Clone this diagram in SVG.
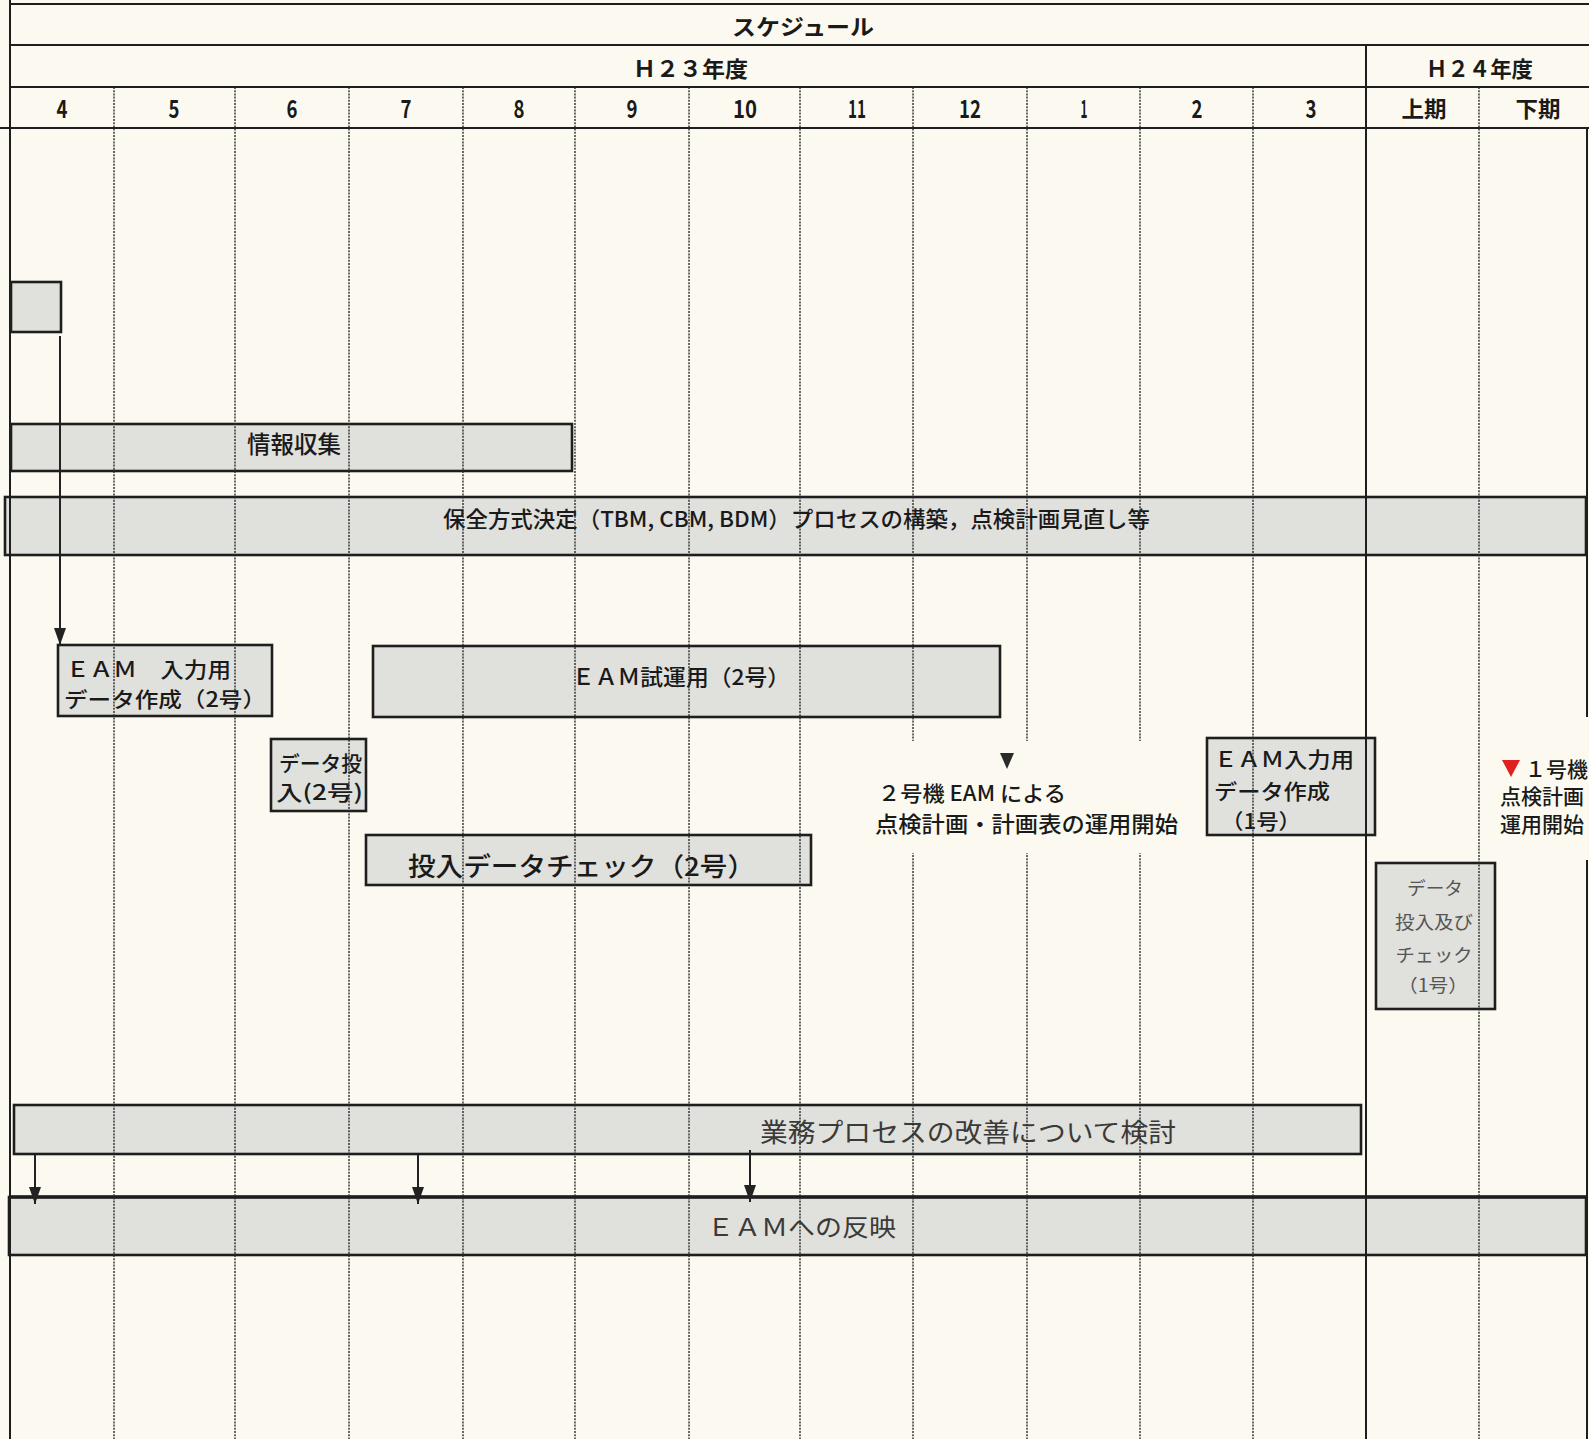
<svg xmlns="http://www.w3.org/2000/svg" width="1589" height="1439" viewBox="0 0 1589 1439">
<style>
.bg{fill:#fcfaf0}
.solid{stroke:#1e1e1e;stroke-width:2;fill:none}
.dot{stroke:#2a2a2a;stroke-width:1.4;stroke-dasharray:2 1.2;fill:none}
.box{fill:#c4c5c8;fill-opacity:0.5;stroke:#1e1e1e;stroke-width:2.6}
.t{font-family:"Noto Sans CJK JP","Noto Sans",sans-serif;fill:#1a1a1a;font-weight:500}
.hd{font-size:22px;font-weight:700}
.mo{font-size:25px;text-anchor:middle;font-weight:700}
.lbl{font-size:21px}
.sm{font-size:18px;fill:#555;text-anchor:middle;font-weight:400}
.soft{fill:#3a3a3a;font-weight:400}
.conn{stroke:#222;stroke-width:2;fill:none}
</style>
<defs>
<marker id="ah" viewBox="0 0 10 10" refX="10" refY="5" markerWidth="17" markerHeight="12" markerUnits="userSpaceOnUse" orient="auto" preserveAspectRatio="none">
<path d="M0,0 L10,5 L0,10 z" fill="#222"/>
</marker>
</defs>
<rect class="bg" x="0" y="0" width="1589" height="1439"/>

<g id="bar-info">
<rect class="box" x="11" y="424" width="561" height="47"/>
<text class="t" x="247" y="453" font-size="24" textLength="94" lengthAdjust="spacingAndGlyphs">情報収集</text>
</g>
<g id="bar-hozen">
<rect class="box" x="5" y="497" width="1581" height="58"/>
<text class="t" x="443" y="527" font-size="22" font-weight="400" textLength="707" lengthAdjust="spacingAndGlyphs">保全方式決定（TBM, CBM, BDM）プロセスの構築，点検計画見直し等</text>
</g>
<g id="box-small">
<rect class="box" x="11" y="282" width="50" height="50"/>
</g>
<g id="box-eam-input2">
<rect class="box" x="58" y="645" width="214" height="71"/>
<text class="t lbl" x="66" y="677" textLength="165" lengthAdjust="spacingAndGlyphs">ＥＡＭ　入力用</text>
<text class="t lbl" x="64" y="707" textLength="202" lengthAdjust="spacingAndGlyphs">データ作成（2号）</text>
</g>
<g id="box-eam-trial">
<rect class="box" x="373" y="646" width="627" height="71"/>
<text class="t" x="572" y="685" font-size="22" textLength="218" lengthAdjust="spacingAndGlyphs">ＥＡＭ試運用（2号）</text>
</g>
<g id="box-data-in2">
<rect class="box" x="271" y="739" width="95" height="72"/>
<text class="t lbl" x="279" y="771" textLength="83" lengthAdjust="spacingAndGlyphs">データ投</text>
<text class="t lbl" x="276" y="800" textLength="87" lengthAdjust="spacingAndGlyphs">入(2号)</text>
</g>
<g id="box-check2">
<rect class="box" x="366" y="835" width="445" height="50"/>
<text class="t" x="408" y="876" font-size="26" textLength="347" lengthAdjust="spacingAndGlyphs">投入データチェック（2号）</text>
</g>
<g id="box-eam-input1">
<rect class="box" x="1207" y="738" width="168" height="97"/>
<text class="t lbl" x="1214" y="767" textLength="140" lengthAdjust="spacingAndGlyphs">ＥＡＭ入力用</text>
<text class="t lbl" x="1214" y="799" textLength="116" lengthAdjust="spacingAndGlyphs">データ作成</text>
<text class="t lbl" x="1221" y="829" textLength="80" lengthAdjust="spacingAndGlyphs">（1号）</text>
</g>
<g id="box-data-in1">
<rect class="box" x="1376" y="863" width="119" height="146"/>
<text class="t sm" x="1435" y="895" textLength="56" lengthAdjust="spacingAndGlyphs">データ</text>
<text class="t sm" x="1434" y="929" textLength="78" lengthAdjust="spacingAndGlyphs">投入及び</text>
<text class="t sm" x="1434" y="962" textLength="77" lengthAdjust="spacingAndGlyphs">チェック</text>
<text class="t sm" x="1433" y="992" textLength="70" lengthAdjust="spacingAndGlyphs">（1号）</text>
</g>
<g id="bar-gyomu">
<rect class="box" x="14" y="1105" width="1347" height="49"/>
<text class="t soft" x="760" y="1142" font-size="26" textLength="416" lengthAdjust="spacingAndGlyphs">業務プロセスの改善について検討</text>
</g>
<g id="bar-hanei">
<rect class="box" x="9" y="1197" width="1577" height="58"/>
<line x1="9" y1="1197" x2="1586" y2="1197" stroke="#1e1e1e" stroke-width="3.5"/>
<text class="t soft" x="707" y="1236" font-size="24" textLength="189" lengthAdjust="spacingAndGlyphs">ＥＡＭへの反映</text>
</g>

<g id="grid">
<line class="solid" x1="10" y1="4" x2="1589" y2="4"/>
<line class="solid" x1="10" y1="0" x2="10" y2="1439"/>
<line class="solid" x1="10" y1="45" x2="1589" y2="45"/>
<line class="solid" x1="10" y1="87" x2="1589" y2="87"/>
<line class="solid" x1="0" y1="128" x2="1589" y2="128"/>
<line class="solid" x1="1366" y1="45" x2="1366" y2="1439"/>
<line class="solid" x1="1587" y1="128" x2="1587" y2="717"/>
<line class="solid" x1="1587" y1="860" x2="1587" y2="1439"/>
<g class="dot">
<line x1="114" y1="87" x2="114" y2="1439"/>
<line x1="235" y1="87" x2="235" y2="1439"/>
<line x1="349" y1="87" x2="349" y2="1439"/>
<line x1="463" y1="87" x2="463" y2="1439"/>
<line x1="575" y1="87" x2="575" y2="1439"/>
<line x1="689" y1="87" x2="689" y2="1439"/>
<line x1="800" y1="87" x2="800" y2="1439"/>
<line x1="913" y1="87" x2="913" y2="1439"/>
<line x1="1027" y1="87" x2="1027" y2="1439"/>
<line x1="1140" y1="87" x2="1140" y2="1439"/>
<line x1="1253" y1="87" x2="1253" y2="1439"/>
<line x1="1479" y1="87" x2="1479" y2="1439"/>
</g>
</g>

<g id="header">
<text class="t hd" x="732" y="35" textLength="142" lengthAdjust="spacingAndGlyphs">スケジュール</text>
<text class="t hd" x="633" y="77" textLength="115" lengthAdjust="spacingAndGlyphs">Ｈ２３年度</text>
<text class="t hd" x="1426" y="77" textLength="107" lengthAdjust="spacingAndGlyphs">Ｈ２４年度</text>
<text class="t mo" x="62" y="118" textLength="11" lengthAdjust="spacingAndGlyphs">4</text>
<text class="t mo" x="174" y="118" textLength="11" lengthAdjust="spacingAndGlyphs">5</text>
<text class="t mo" x="292" y="118" textLength="11" lengthAdjust="spacingAndGlyphs">6</text>
<text class="t mo" x="406" y="118" textLength="11" lengthAdjust="spacingAndGlyphs">7</text>
<text class="t mo" x="519" y="118" textLength="11" lengthAdjust="spacingAndGlyphs">8</text>
<text class="t mo" x="632" y="118" textLength="11" lengthAdjust="spacingAndGlyphs">9</text>
<text class="t mo" x="745" y="118" textLength="24" lengthAdjust="spacingAndGlyphs">10</text>
<text class="t mo" x="857" y="118" textLength="18" lengthAdjust="spacingAndGlyphs">11</text>
<text class="t mo" x="970" y="118" textLength="22" lengthAdjust="spacingAndGlyphs">12</text>
<text class="t mo" x="1084" y="118" textLength="7" lengthAdjust="spacingAndGlyphs">1</text>
<text class="t mo" x="1197" y="118" textLength="11" lengthAdjust="spacingAndGlyphs">2</text>
<text class="t mo" x="1311" y="118" textLength="11" lengthAdjust="spacingAndGlyphs">3</text>
<text class="t hd" x="1424" y="117" text-anchor="middle" textLength="45" lengthAdjust="spacingAndGlyphs">上期</text>
<text class="t hd" x="1538" y="117" text-anchor="middle" textLength="45" lengthAdjust="spacingAndGlyphs">下期</text>
</g>

<g id="milestone-2">
<rect class="bg" x="855" y="741" width="338" height="112"/>
<polygon points="1000,753 1014,753 1007,769" fill="#2a2a2a"/>
<text class="t lbl" x="878" y="801" font-weight="700" textLength="188" lengthAdjust="spacingAndGlyphs">２号機 EAM による</text>
<text class="t" x="875" y="832" font-size="22" font-weight="700" textLength="303" lengthAdjust="spacingAndGlyphs">点検計画・計画表の運用開始</text>
</g>
<g id="milestone-1">
<polygon points="1502,760 1520,760 1511,777" fill="#e02020"/>
<text class="t" x="1525" y="777" font-size="21" font-weight="700">１号機</text>
<text class="t" x="1500" y="804" font-size="21" font-weight="700">点検計画</text>
<text class="t" x="1500" y="832" font-size="21" font-weight="700">運用開始</text>
</g>

<g id="connectors">
<line class="conn" x1="60" y1="336" x2="60" y2="645" marker-end="url(#ah)"/>
<line class="conn" x1="35" y1="1154" x2="35" y2="1204" marker-end="url(#ah)"/>
<line class="conn" x1="418" y1="1154" x2="418" y2="1204" marker-end="url(#ah)"/>
<line class="conn" x1="750" y1="1150" x2="750" y2="1202" marker-end="url(#ah)"/>
</g>
</svg>
